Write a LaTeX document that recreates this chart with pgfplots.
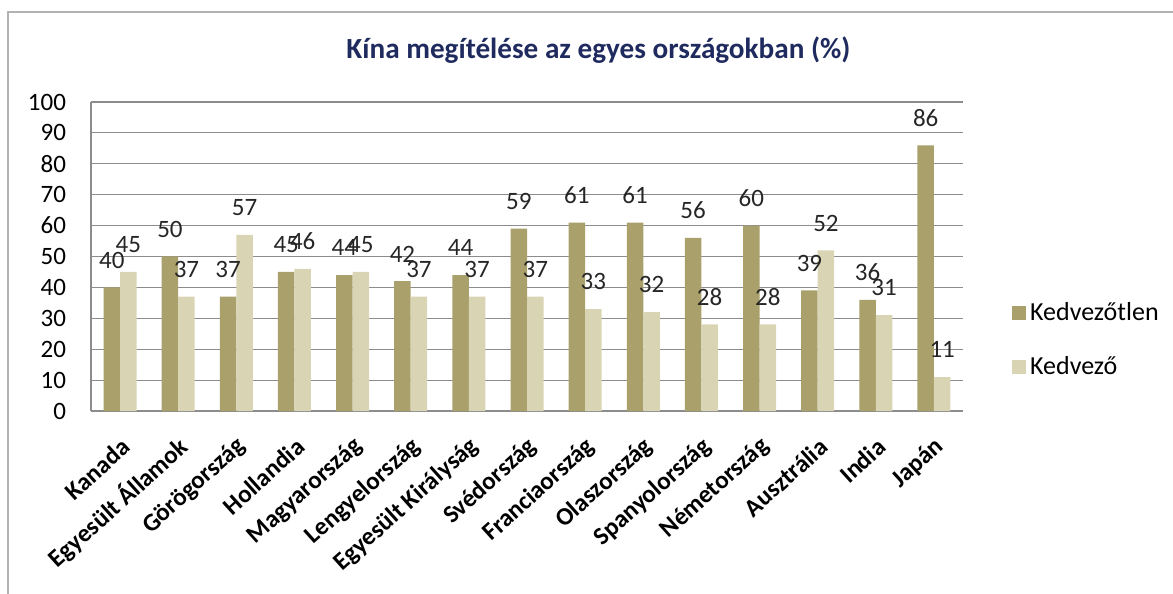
\documentclass[border=0pt]{standalone}
\usepackage{fontspec}
\setmainfont{Carlito}
\usepackage{pgfplots}
\pgfplotsset{compat=1.18}
\definecolor{darkbar}{HTML}{A9A06B}
\definecolor{lightbar}{HTML}{D9D4B4}
\definecolor{titleblue}{HTML}{1F2A5E}
\definecolor{gridgray}{HTML}{8C8C8C}
\begin{document}
\begin{tikzpicture}
\path[use as bounding box] (-45.5pt,-91.5pt) rectangle (541pt,205.5pt);
\draw[gray!60, line width=0.7pt] (-41.5pt,-91.5pt) -- (-41.5pt,199.5pt) -- (541pt,199.5pt);
\node[font=\fontsize{14.6}{17}\selectfont\bfseries, text=titleblue] at (253.75pt,180.5pt) {Kína megítélése az egyes országokban (\%)};
\begin{axis}[
  at={(0,0)}, anchor=south west,
  scale only axis, width=436pt, height=154.5pt,
  ybar=0pt, bar width=8.25pt,
  xmin=-0.5, xmax=14.5, ymin=0, ymax=100,
  ytick={0,10,...,100},
  xtick={0,...,14},
  xticklabels={Kanada,Egyesült Államok,Görögország,Hollandia,Magyarország,Lengyelország,Egyesült Királyság,Svédország,Franciaország,Olaszország,Spanyolország,Németország,Ausztrália,India,Japán},
  xticklabel style={rotate=42, anchor=east, font=\fontsize{12.5}{15}\selectfont\bfseries, xshift=-5pt, yshift=-14pt},
  yticklabel style={font=\fontsize{12.5}{15}\selectfont, xshift=-9pt},
  /pgf/number format/assume math mode=true,
  major tick length=0pt,
  axis x line*=bottom, axis y line*=left,
  axis line style={gridgray, line width=0.6pt},
  ymajorgrids, grid style={gridgray, line width=0.6pt},
  nodes near coords,
  every node near coord/.append style={font=\fontsize{12.5}{15}\selectfont, text=black!85, yshift=6pt},
  legend style={at={(1.049,0.23)}, anchor=west, draw=none, fill=none, row sep=12.5pt, font=\fontsize{13}{15}\selectfont, cells={anchor=west}},
  legend image code/.code={\fill[#1] (-3pt,-3.5pt) rectangle (4pt,3.5pt);},
]
\addplot[fill=darkbar, draw=none] coordinates {(0,40) (1,50) (2,37) (3,45) (4,44) (5,42) (6,44) (7,59) (8,61) (9,61) (10,56) (11,60) (12,39) (13,36) (14,86)};
\addplot[fill=lightbar, draw=none] coordinates {(0,45) (1,37) (2,57) (3,46) (4,45) (5,37) (6,37) (7,37) (8,33) (9,32) (10,28) (11,28) (12,52) (13,31) (14,11)};
\legend{Kedvezőtlen,Kedvező}
\end{axis}
\end{tikzpicture}
\end{document}
